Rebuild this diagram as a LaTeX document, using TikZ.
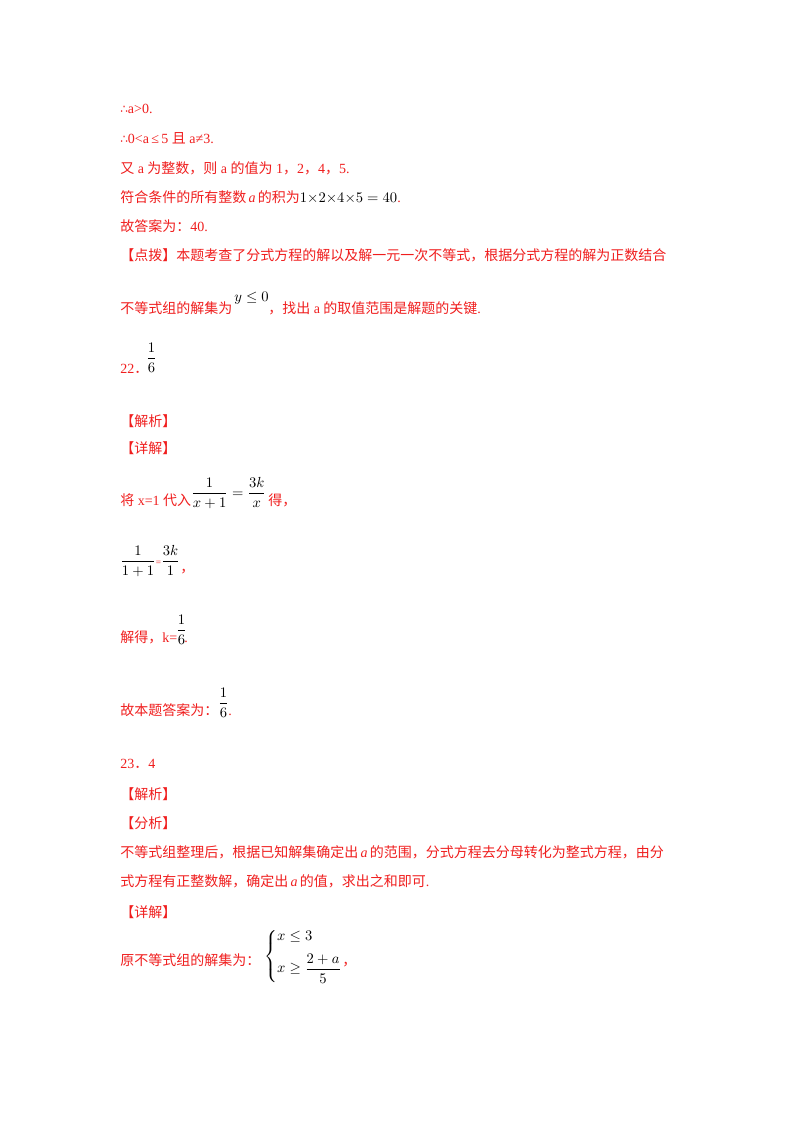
\documentclass[tikz,border=0pt]{standalone}
\usepackage{amsmath}
\usepackage{fontspec}
\setmainfont{Liberation Serif}
\newfontfamily\cjk{Noto Sans CJK SC}
\newfontfamily\djv{DejaVu Sans}
\definecolor{ans}{RGB}{240,30,30}
\newcommand{\zh}[1]{{\cjk #1}}
\newcommand{\thf}{{\djv\small ∴}}
\begin{document}
\begin{tikzpicture}[x=0.75pt,y=-0.75pt,
  t/.style={anchor=base west,inner sep=0pt,text=ans,font=\fontsize{10.5}{12}\selectfont},
  m/.style={anchor=base west,inner sep=0pt,text=black,font=\fontsize{10.5}{12}\selectfont}]
\useasboundingbox (0,0) rectangle (800,1132);
\fill[white] (0,0) rectangle (800,1132);
\node[t] (l1) at (120,113) {\thf a>0.};
\node[t] (l2) at (120,143) {\thf 0<a\,≤\,5 \zh{且} a≠3.};
\node[t] (l3) at (120,173) {\zh{又} a \zh{为整数，则} a \zh{的值为} 1\zh{，}2\zh{，}4\zh{，}5.};
\node[t] (l4) at (120,202) {\zh{符合条件的所有整数}\,\textit{a}\,\zh{的积为}\textcolor{black}{$1{\times}2{\times}4{\times}5=40$}.};
\node[t] (l5) at (120,231) {\zh{故答案为：}40.};
\node[t] (l6) at (120,260) {\zh{【点拨】本题考查了分式方程的解以及解一元一次不等式，根据分式方程的解为正数结合}};
\node[t] (l7) at (120,313) {\zh{不等式组的解集为}};
\node[m] (y0) at (234,301) {$y\le 0$};
\node[t] (l7b) at (268,313) {\zh{，找出} a \zh{的取值范围是解题的关键}.};
\node[t] (q22) at (120,373) {22\zh{．}};
\node[m] (f22) at (146,362) {$\dfrac{1}{6}$};
\node[t] (jx1) at (120,426) {\zh{【解析】}};
\node[t] (xj1) at (120,453) {\zh{【详解】}};
\node[t] (s1) at (120,505) {\zh{将} x=1 \zh{代入}};
\node[m] (e1) at (191,497) {$\dfrac{1}{x+1}=\dfrac{3k}{x}$};
\node[t] (s1b) at (268,505) {\zh{得，}};
\node[m] (e2) at (120,565) {$\dfrac{1}{1+1}$\textcolor{ans}{\scriptsize=}$\dfrac{3k}{1}$};
\node[t] (e2b) at (180,572) {\zh{，}};
\node[t] (s3) at (120,642) {\zh{解得，}k=};
\node[m] (f3) at (176,634) {$\dfrac{1}{6}$};
\node[t] (s3b) at (184,642) {.};
\node[t] (s4) at (120,715) {\zh{故本题答案为：}};
\node[m] (f4) at (218,707) {$\dfrac{1}{6}$};
\node[t] (s4b) at (228,715) {.};
\node[t] (q23) at (120,768) {23\zh{．}4};
\node[t] (jx2) at (120,799) {\zh{【解析】}};
\node[t] (fx2) at (120,828) {\zh{【分析】}};
\node[t] (p1) at (120,857) {\zh{不等式组整理后，根据已知解集确定出}\,\textit{a}\,\zh{的范围，分式方程去分母转化为整式方程，由分}};
\node[t] (p2) at (120,886) {\zh{式方程有正整数解，确定出}\,\textit{a}\,\zh{的值，求出之和即可}.};
\node[t] (xj2) at (120,917) {\zh{【详解】}};
\node[t] (s5) at (120,965) {\zh{原不等式组的解集为：}};
\node[m] (sys) at (264,960) {$\left\{\begin{array}{@{}l}x\le 3\\[6pt] x\ge\dfrac{2+a}{5}\end{array}\right.$};
\node[t] (s5b) at (342,965) {\zh{，}};
\end{tikzpicture}
\end{document}
